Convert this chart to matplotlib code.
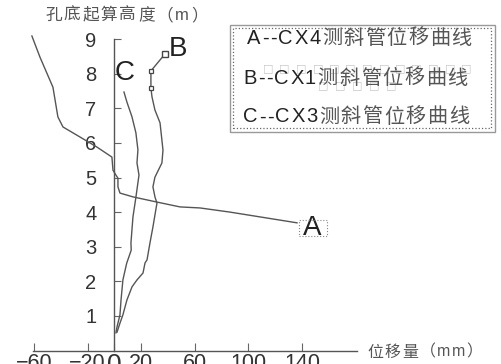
import matplotlib
matplotlib.use('Agg')
import matplotlib.pyplot as plt
from matplotlib.patches import Rectangle

plt.rcParams['font.family'] = ['Liberation Sans', 'Noto Sans CJK SC', 'DejaVu Sans']

# curve A -- CX4 (displacement mm, height m)
a_disp = [-61.6, -55.6, -45.9, -42.2, -38.4, -25.7, -13.1, -1.9, -1.1, 1.1, 2.6,
          2.6, 4.1, 13.8, 31.7, 48.9, 63.8, 86.2, 136.2]
a_height = [9.09, 8.48, 7.61, 6.75, 6.46, 6.17, 5.88, 5.59, 5.21, 5.07, 4.98,
            4.73, 4.55, 4.44, 4.29, 4.15, 4.12, 4.00, 3.69]

# curve B -- CX1
b_disp = [37.7, 27.2, 27.2, 28.0, 30.2, 34.0, 35.4, 36.2, 35.4, 30.2, 28.7, 30.2,
          31.7, 28.7, 26.5, 24.3, 22.8, 21.3, 16.8, 13.1, 9.3, 6.3, 4.1, 1.9]
b_height = [8.57, 8.08, 7.59, 7.33, 6.95, 6.58, 6.08, 5.79, 5.42, 5.01, 4.73, 4.44,
            4.26, 3.57, 3.11, 2.62, 2.53, 2.24, 2.04, 1.84, 1.46, 1.03, 0.79, 0.53]

# curve C -- CX3
c_disp = [7.1, 9.3, 13.1, 16.0, 17.5, 16.8, 18.3, 16.0, 13.8, 12.3, 12.5, 9.1,
          6.3, 4.9, 4.1, 1.9, 1.1]
c_height = [7.47, 7.18, 6.75, 6.29, 5.80, 5.42, 5.07, 4.43, 3.86, 3.11, 2.90, 2.52,
            2.04, 1.46, 1.03, 0.68, 0.51]

x_ticks = [-60, -20, 0, 20, 60, 100, 140]
x_tick_labels = ['\u221260', '\u221220', '0', '20', '60', '100', '140']
y_ticks = [1, 2, 3, 4, 5, 6, 7, 8, 9]

legend_rows = ['A--CX4测斜管位移曲线', 'B--CX1测斜管位移曲线', 'C--CX3测斜管位移曲线']
y_label = '孔底起算高度（m）'
x_label = '位移量（mm）'

W, H = 501, 364
fig = plt.figure(figsize=(W / 100, H / 100), dpi=100)
ax = fig.add_axes([0, 0, 1, 1])
ax.patch.set_visible(False)
ax.set_xlim(-85.4, 288.4)
ax.set_ylim(-0.39, 10.13)

line_kw = dict(color='#555555', lw=1.0)
ax.plot(a_disp, a_height, **line_kw)
ax.plot(b_disp, b_height, **line_kw)
ax.plot(b_disp[1:3], b_height[1:3], ls='none', marker='s', ms=3.5,
        mfc='white', mec='#444444', mew=0.9)
ax.plot(b_disp[:1], b_height[:1], ls='none', marker='s', ms=5,
        mfc='white', mec='#444444', mew=1.0)
ax.plot(c_disp, c_height, **line_kw)

for side in ['top', 'right']:
    ax.spines[side].set_visible(False)
ax.spines['left'].set_position(('data', 0))
ax.spines['bottom'].set_position(('data', 0))
ax.spines['left'].set_bounds(0, 9)
ax.spines['bottom'].set_bounds(-61, 181)
for side in ['left', 'bottom']:
    ax.spines[side].set_color('#555555')
    ax.spines[side].set_linewidth(1.0)

ax.set_yticks(y_ticks)
ax.tick_params(axis='y', direction='in', length=5, pad=13, labelsize=14.5,
               color='#666666', labelcolor='#333333')
ax.set_xticks(x_ticks, x_tick_labels)
ax.tick_params(axis='x', direction='in', length=6, pad=1.5, labelsize=15.5,
               color='#666666', labelcolor='#333333')
ax.get_xticklabels()[2].set_fontsize(19)

# curve labels
ax.text(147.4, 3.54, 'A', fontsize=20, ha='center', va='center', color='#222222')
ax.text(47.4, 8.72, 'B', fontsize=20, ha='center', va='center', color='#222222')
ax.text(7.8, 8.02, 'C', fontsize=20, ha='center', va='center', color='#222222')


def fig_rect(x, y, w, h, **kw):
    # pixel box, top-left origin
    fig.add_artist(Rectangle((x / W, 1 - (y + h) / H), w / W, h / H,
                             transform=fig.transFigure, fill=False, **kw))


def spaced_text(x, y, s, gap, size, latin='#222222', cjk='#555555'):
    r = fig.canvas.get_renderer()
    for ch in s:
        col = cjk if ord(ch) > 0x2E80 else latin
        t = fig.text(x / W, 1 - y / H, ch, fontsize=size, color=col,
                     ha='left', va='center')
        x += t.get_window_extent(r).width + gap


# dotted box behind the A label
fig_rect(299, 220, 28, 16, ec='#888888', lw=0.8, ls=':')

# legend frame
fig_rect(230, 25, 265, 107, ec='#999999', lw=1.0)
fig_rect(233, 28, 258, 100, ec='#666666', lw=0.9, ls=':')

# missing-glyph boxes in the legend
for i in range(13):
    fig.text((263 + i * 16.5) / W, 1 - 68 / H, '\u25a1', family=['DejaVu Sans'],
             fontsize=8, color='#c8c8c8', ha='left', va='center')
for i in range(5):
    fig.text((318 + i * 17) / W, 1 - 85 / H, '\u25a1', family=['DejaVu Sans'],
             fontsize=8, color='#c8c8c8', ha='left', va='center')

for s, (lx, ly) in zip(legend_rows, [(247, 38), (243, 78), (243, 117)]):
    spaced_text(lx, ly, s, 1.5, 14.5)

# axis titles
spaced_text(45, 15, y_label, 2, 12, latin='#555555')
spaced_text(367, 352, x_label, 1.5, 11.5, latin='#555555')

fig.savefig('out.png', dpi=100)
